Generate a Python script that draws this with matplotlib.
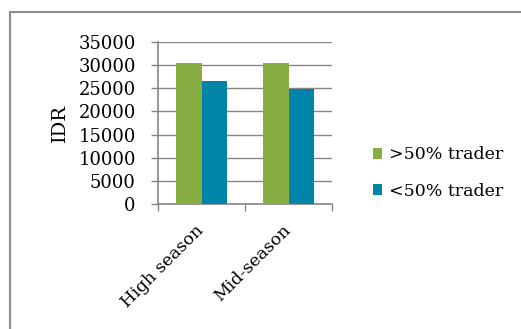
import matplotlib.pyplot as plt
import numpy as np
from matplotlib.lines import Line2D

categories = ['High season', 'Mid-season']
series_names = ['>50% trader', '<50% trader']
above_50 = [30500, 30500]
below_50 = [26600, 24900]
colors = ['#87AD43', '#0084A9']
yticks = [0, 5000, 10000, 15000, 20000, 25000, 30000, 35000]

plt.rcParams['font.family'] = ['DejaVu Serif']
grid_gray = '#868686'

W, H = 521, 329
fig = plt.figure(figsize=(W / 100, H / 100), dpi=100)
ax = fig.add_axes([158 / W, 1 - 204 / H, 174 / W, 162 / H])

x = np.arange(len(categories))
bw = 0.29
ax.bar(x - bw / 2, above_50, bw, color=colors[0], label=series_names[0], zorder=3)
ax.bar(x + bw / 2, below_50, bw, color=colors[1], label=series_names[1], zorder=3)

ax.set_xlim(-0.5, len(categories) - 0.5)
ax.set_ylim(0, 35000)
ax.set_yticks(yticks)
ax.set_yticklabels([str(v) for v in yticks], fontsize=13)
ax.yaxis.grid(True, color=grid_gray, linewidth=1, zorder=0)
ax.tick_params(axis='y', length=5, color=grid_gray, width=1, pad=11)

ax.set_xticks(x)
ax.set_xticklabels(categories, rotation=45, ha='right', va='center',
                   rotation_mode='anchor', fontsize=12.5)
ax.tick_params(axis='x', which='major', length=0, pad=17)
ax.set_xticks(np.arange(len(categories) + 1) - 0.5, minor=True)
ax.tick_params(axis='x', which='minor', length=5, color=grid_gray, width=1)

for s in ['top', 'right']:
    ax.spines[s].set_visible(False)
for s in ['left', 'bottom']:
    ax.spines[s].set_color(grid_gray)
    ax.spines[s].set_linewidth(1.2)

ax.set_ylabel('IDR', fontsize=14, labelpad=7)

ax.legend(loc='center left', bbox_to_anchor=(357 / W, 1 - 173 / H),
          bbox_transform=fig.transFigure, frameon=False, fontsize=12.5,
          handlelength=0.55, handleheight=0.55, handletextpad=0.4, labelspacing=1.1)

# outer frame (top and left edges only visible)
fig.add_artist(Line2D([10 / W, 1], [1 - 12 / H, 1 - 12 / H], color='#8C8C8C', linewidth=1.5))
fig.add_artist(Line2D([10 / W, 10 / W], [0, 1 - 12 / H], color='#8C8C8C', linewidth=1.5))

fig.savefig('out.png', dpi=100)
